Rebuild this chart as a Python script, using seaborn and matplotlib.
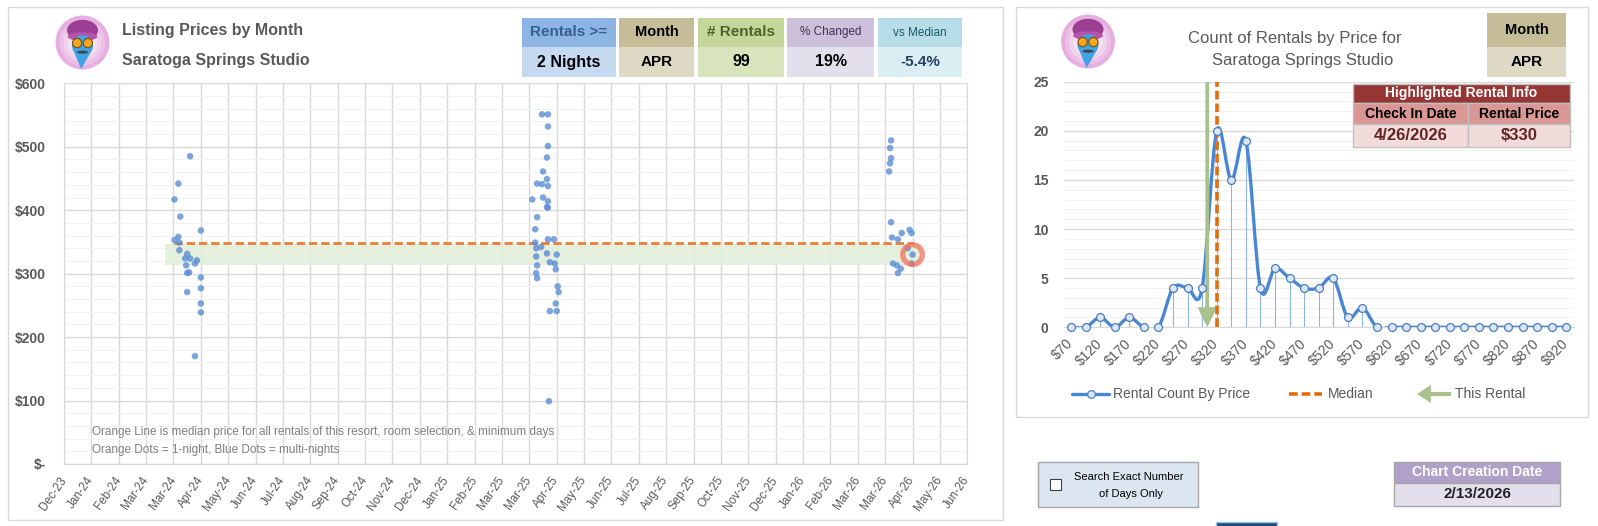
import matplotlib
matplotlib.use("Agg")
import matplotlib.pyplot as plt
import matplotlib.dates as mdates
from matplotlib.patches import Rectangle, Circle, Ellipse, Polygon, PathPatch, FancyArrowPatch
from matplotlib.path import Path
from matplotlib.ticker import FixedLocator, MultipleLocator, FuncFormatter
import numpy as np
import pandas as pd
import seaborn as sns

# ---- left chart: listing prices by check in date ----
dates_2024 = ['2024-04-17', '2024-04-05', '2024-04-01', '2024-04-07', '2024-04-28', '2024-04-01',
              '2024-04-05', '2024-04-06', '2024-04-06', '2024-04-14', '2024-04-12', '2024-04-17',
              '2024-04-24', '2024-04-22', '2024-04-13', '2024-04-14', '2024-04-16', '2024-04-28',
              '2024-04-28', '2024-04-14', '2024-04-28', '2024-04-28', '2024-04-22']
prices_2024 = [485, 442, 417, 390, 368, 353, 358, 349, 337, 331, 324, 324,
               321, 316, 313, 301, 302, 294, 277, 271, 253, 239, 170]

dates_2025 = ['2025-04-12', '2025-04-18', '2025-04-18', '2025-04-18', '2025-04-17', '2025-04-13',
              '2025-04-17', '2025-04-07', '2025-04-12', '2025-04-18', '2025-04-02', '2025-04-13',
              '2025-04-18', '2025-04-17', '2025-04-18', '2025-04-07', '2025-04-05', '2025-04-05',
              '2025-04-18', '2025-04-24', '2025-04-06', '2025-04-11', '2025-04-06', '2025-04-17',
              '2025-04-27', '2025-04-07', '2025-04-20', '2025-04-25', '2025-04-26', '2025-04-06',
              '2025-04-07', '2025-04-28', '2025-04-29', '2025-04-26', '2025-04-20', '2025-04-27',
              '2025-04-19']
prices_2025 = [551, 551, 532, 501, 483, 461, 449, 442, 441, 438, 417, 420,
               414, 405, 404, 389, 370, 349, 354, 354, 340, 342, 327, 332,
               330, 313, 318, 316, 307, 301, 293, 280, 271, 253, 241, 241, 99]

dates_2026 = ['2026-04-04', '2026-04-03', '2026-04-04', '2026-04-03', '2026-04-02', '2026-04-04',
              '2026-04-15', '2026-04-23', '2026-04-25', '2026-04-05', '2026-04-11', '2026-04-21',
              '2026-04-26', '2026-04-25', '2026-04-06', '2026-04-10', '2026-04-14', '2026-04-11']
prices_2026 = [510, 498, 482, 474, 461, 381, 364, 369, 364, 357, 354, 340,
               330, 316, 316, 313, 308, 301]

median_price = 349
median_start, median_end = '2024-04-01', '2026-04-27'
band_low, band_high = 313.5, 346.5
band_start, band_end = '2024-03-22', '2026-05-05'
highlight_date = '2026-04-26'
highlight_price = 330

# ---- right chart: count of rentals by price ----
bin_prices = [70, 95, 120, 145, 170, 195, 220, 245, 270, 295, 320, 345, 370, 395, 420, 445, 470,
              495, 520, 545, 570, 595, 620, 645, 670, 695, 720, 745, 770, 795, 820, 845, 870, 895, 920]
counts = [0, 0, 1, 0, 1, 0, 0, 4, 4, 4, 20, 15, 19, 4, 6, 5, 4, 4, 5, 1, 2, 0,
          0, 0, 0, 0, 0, 0, 0, 0, 0, 0, 0, 0, 0]
median_bin_pos = 10.05
rental_bin_pos = 9.35

# ---- header cells ----
header_names = ['Rentals >=', 'Month', '# Rentals', '% Changed', 'vs Median']
header_values = ['2 Nights', 'APR', '99', '19%', '-5.4%']
check_in_text = '4/26/2026'
rental_price_text = '$330'
creation_date = '2/13/2026'

W, H = 1598, 526
BLUE = '#4A86D4'
GRID = '#D9D9D9'
MINOR = '#F2F2F2'
TXT = '#595959'
GREEN = '#A9C18C'

sns.set_style('white')
plt.rcParams['font.family'] = ['Liberation Sans', 'DejaVu Sans']

fig = plt.figure(figsize=(W / 100, H / 100), dpi=100)


def px_rect(l, t, r, b):
    return [l / W, 1 - b / H, (r - l) / W, (b - t) / H]


def smooth_path(xs, ys):
    # bezier segments through the points, like a smoothed office line
    verts = [(xs[0], ys[0])]
    codes = [Path.MOVETO]
    n = len(xs)
    for i in range(n - 1):
        xa, ya = (xs[i - 1], ys[i - 1]) if i > 0 else (xs[i], ys[i])
        xd, yd = (xs[i + 2], ys[i + 2]) if i + 2 < n else (xs[i + 1], ys[i + 1])
        c1 = (xs[i] + (xs[i + 1] - xa) / 6, ys[i] + (ys[i + 1] - ya) / 6)
        c2 = (xs[i + 1] - (xd - xs[i]) / 6, ys[i + 1] - (yd - ys[i]) / 6)
        verts += [c1, c2, (xs[i + 1], ys[i + 1])]
        codes += [Path.CURVE4] * 3
    return Path(verts, codes)


# ================= left chart =================
axL = fig.add_axes(px_rect(64, 83.3, 967.3, 464))
df = pd.DataFrame({'date': pd.to_datetime(dates_2024 + dates_2025 + dates_2026),
                   'price': prices_2024 + prices_2025 + prices_2026})

axL.fill_between(pd.to_datetime([band_start, band_end]), band_low, band_high,
                 color='#E2EFDA', alpha=0.9, lw=0, zorder=1)
axL.plot(pd.to_datetime([median_start, median_end]), [median_price, median_price],
         color='#ED7D31', lw=2, dashes=(3, 1.4), zorder=3)
sns.scatterplot(data=df, x='date', y='price', ax=axL, color='#5B8ED6', s=22,
                edgecolor='none', alpha=0.8, zorder=4, legend=False)
axL.scatter(pd.to_datetime([highlight_date]), [highlight_price], s=200, facecolor='none',
            edgecolor='#F2705F', lw=3.8, alpha=0.75, zorder=5)

tick_dates = pd.date_range('2023-12-10', periods=34, freq='28D')
tick_nums = mdates.date2num(tick_dates.to_pydatetime())
axL.set_xticks(tick_nums)
axL.set_xticklabels([d.strftime('%b-%y') for d in tick_dates])
axL.set_xlim(tick_nums[0], tick_nums[-1])
axL.set_ylim(0, 600)
axL.set_yticks(range(0, 601, 100))
axL.yaxis.set_minor_locator(MultipleLocator(20))
axL.yaxis.set_major_formatter(FuncFormatter(lambda v, p: '$-' if v == 0 else f'${v:.0f}'))
axL.grid(True, which='major', color=GRID, lw=1, zorder=0)
axL.grid(True, which='minor', axis='y', color=MINOR, lw=0.8, zorder=0)
axL.set_axisbelow(True)
axL.set_xlabel('')
axL.set_ylabel('')
for s in axL.spines.values():
    s.set_color(GRID)
axL.tick_params(axis='y', which='both', length=0, pad=13, labelsize=10, labelcolor=TXT)
axL.tick_params(axis='x', length=0, pad=10, labelsize=8.5, labelcolor=TXT)
for lab in axL.get_yticklabels():
    lab.set_fontweight('bold')
plt.setp(axL.get_xticklabels(), rotation=55, ha='right', va='center', rotation_mode='anchor')

# ================= right chart =================
axR = fig.add_axes(px_rect(1063.8, 81.7, 1573.6, 327.3))
xs = np.arange(len(counts))
axR.vlines(xs, 0, counts, color='#8DB4E2', lw=0.8, zorder=2)
axR.add_patch(PathPatch(smooth_path(xs, counts), fill=False, edgecolor=BLUE, lw=2.4,
                        zorder=3, joinstyle='round', capstyle='round'))
sns.scatterplot(x=xs, y=counts, ax=axR, s=32, color='#DCE6F2', edgecolor='#4A7EBB',
                linewidth=0.9, zorder=6, legend=False, clip_on=False)
axR.axvline(median_bin_pos, color='#E46C0A', lw=2.6, dashes=(2.4, 1.1), zorder=5)
axR.add_patch(FancyArrowPatch((rental_bin_pos, 25), (rental_bin_pos, 0),
                              arrowstyle='simple,head_width=1.4,head_length=1.45,tail_width=0.27',
                              mutation_scale=10, color=GREEN, lw=0, shrinkA=0, shrinkB=0, zorder=4))

axR.set_xlim(-0.5, len(counts) - 0.5)
axR.set_ylim(0, 25)
axR.set_xticks(xs[::2])
axR.set_xticklabels([f'${p}' for p in bin_prices[::2]])
axR.xaxis.set_minor_locator(FixedLocator(np.arange(-0.5, len(counts), 1)))
axR.set_yticks(range(0, 26, 5))
axR.yaxis.set_minor_locator(MultipleLocator(1))
axR.grid(True, which='major', axis='y', color=GRID, lw=1, zorder=0)
axR.grid(True, which='minor', axis='y', color=MINOR, lw=0.8, zorder=0)
axR.set_axisbelow(True)
for name, s in axR.spines.items():
    s.set_visible(name == 'bottom')
axR.spines['bottom'].set_color(GRID)
axR.tick_params(axis='x', which='major', length=0, pad=10, labelsize=10, labelcolor=TXT)
axR.tick_params(axis='x', which='minor', length=5, direction='inout', color=GRID)
axR.tick_params(axis='y', which='both', length=0, pad=11, labelsize=10, labelcolor=TXT)
for lab in axR.get_yticklabels():
    lab.set_fontweight('bold')
plt.setp(axR.get_xticklabels(), rotation=45, ha='right', va='center', rotation_mode='anchor')

# ================= overlay: panels, headers, widgets =================
axO = fig.add_axes([0, 0, 1, 1], zorder=10)
axO.set_xlim(0, W)
axO.set_ylim(H, 0)
axO.axis('off')
axO.patch.set_alpha(0)


def cell(x0, y0, x1, y1, fill, text, size, color='black', weight='bold', edge='none'):
    axO.add_patch(Rectangle((x0, y0), x1 - x0, y1 - y0, facecolor=fill, edgecolor=edge, lw=1))
    axO.text((x0 + x1) / 2, (y0 + y1) / 2, text, ha='center', va='center', fontsize=size,
             color=color, fontweight=weight)


def draw_genie(cx, cy, r):
    for k, col in enumerate(['#E6AEE1', '#ECC1E8', '#F1D2EE', '#F6E2F4', '#FAEFF9']):
        axO.add_patch(Circle((cx, cy), r * (1 - 0.15 * k), color=col, lw=0))
    axO.add_patch(Ellipse((cx, cy - 0.45 * r), 1.15 * r, 0.78 * r, color='#9C3F93', lw=0))
    axO.add_patch(Ellipse((cx, cy - 0.22 * r), 1.1 * r, 0.32 * r, color='#B552A9', lw=0))
    axO.add_patch(Ellipse((cx, cy + 0.12 * r), 0.78 * r, 0.78 * r, color='#3FA3E6', lw=0))
    axO.add_patch(Polygon([(cx - 0.34 * r, cy + 0.3 * r), (cx + 0.34 * r, cy + 0.3 * r),
                           (cx - 0.05 * r, cy + 0.98 * r)], color='#3FA3E6', lw=0))
    for dx in (-0.2, 0.2):
        axO.add_patch(Circle((cx + dx * r, cy + 0.02 * r), 0.17 * r, facecolor='#F5A623',
                             edgecolor='#7A4E00', lw=0.8))
    axO.add_patch(Ellipse((cx, cy + 0.36 * r), 0.42 * r, 0.11 * r, color='#444444', lw=0))


# panel frames
axO.add_patch(Rectangle((7.5, 6.7), 995.5, 513.3, facecolor='none', edgecolor=GRID, lw=1))
axO.add_patch(Rectangle((1016, 7), 572, 410, facecolor='none', edgecolor=GRID, lw=1))

# left header
draw_genie(82.5, 42.5, 27)
axO.text(122, 31, 'Listing Prices by Month', ha='left', va='center', fontsize=11.5,
         fontweight='bold', color=TXT)
axO.text(122, 61, 'Saratoga Springs Studio', ha='left', va='center', fontsize=11.5,
         fontweight='bold', color=TXT)

box_x = [(522, 616), (619, 694), (698, 784), (787, 874), (878, 962)]
head_fill = ['#8DB4E2', '#C4BD97', '#C4D79B', '#CCC0DA', '#B7DEE8']
val_fill = ['#C5D9F1', '#DDD9C4', '#D8E4BC', '#E4DFEC', '#DAEEF3']
head_col = ['#366092', 'black', '#4F6228', '#403151', '#215967']
head_size = [11, 10.5, 11, 8.5, 8.5]
head_weight = ['bold', 'bold', 'bold', 'normal', 'normal']
val_col = ['black', 'black', 'black', 'black', '#244062']
val_size = [11.5, 11, 11.5, 11.5, 11]
for i, (x0, x1) in enumerate(box_x):
    cell(x0, 18, x1, 47, head_fill[i], header_names[i], head_size[i], head_col[i], head_weight[i])
    cell(x0, 47, x1, 77, val_fill[i], header_values[i], val_size[i], val_col[i])

axO.text(92, 432, 'Orange Line is median price for all rentals of this resort, room selection, & minimum days',
         ha='left', va='center', fontsize=8.5, color='#7F7F7F')
axO.text(92, 450, 'Orange Dots = 1-night, Blue Dots = multi-nights',
         ha='left', va='center', fontsize=8.5, color='#7F7F7F')

# right header
draw_genie(1088, 41.5, 27)
axO.text(1295, 39, 'Count of Rentals by Price for', ha='center', va='center', fontsize=12, color=TXT)
axO.text(1303, 61, 'Saratoga Springs Studio', ha='center', va='center', fontsize=12, color=TXT)
cell(1487, 13, 1566, 47, '#C4BD97', 'Month', 10.5)
cell(1487, 47, 1566, 77, '#DDD9C4', header_values[1], 11)

# highlighted rental table
cell(1353, 84, 1570, 103, '#963634', 'Highlighted Rental Info', 10, 'white', edge='#BFBFBF')
cell(1353, 103, 1468, 124, '#DA9694', 'Check In Date', 10, edge='#BFBFBF')
cell(1468, 103, 1570, 124, '#DA9694', 'Rental Price', 10, edge='#BFBFBF')
cell(1353, 124, 1468, 147, '#F2DCDB', check_in_text, 12, '#632523', edge='#BFBFBF')
cell(1468, 124, 1570, 147, '#F2DCDB', rental_price_text, 12, '#632523', edge='#BFBFBF')

# right legend
axO.plot([1072, 1109], [394, 394], color=BLUE, lw=2.4)
axO.plot([1090.5], [394], marker='o', ms=5.5, mfc='#DCE6F2', mec='#4A7EBB', mew=0.9)
axO.text(1113, 394, 'Rental Count By Price', ha='left', va='center', fontsize=10, color=TXT)
axO.plot([1289, 1322], [394, 394], color='#E46C0A', lw=2.6, dashes=(2.4, 1.1))
axO.text(1328, 394, 'Median', ha='left', va='center', fontsize=10, color=TXT)
axO.add_patch(FancyArrowPatch((1451, 394), (1417, 394),
                              arrowstyle='simple,head_width=1.3,head_length=1.0,tail_width=0.3',
                              mutation_scale=10, color=GREEN, lw=0, shrinkA=0, shrinkB=0))
axO.text(1455, 394, 'This Rental', ha='left', va='center', fontsize=10, color=TXT)

# bottom widgets
axO.add_patch(Rectangle((1038, 462), 160, 45, facecolor='#DCE6F1', edgecolor='#A6A6A6', lw=1))
axO.add_patch(Rectangle((1050, 479), 11, 11, facecolor='white', edgecolor='#404040', lw=0.8))
axO.text(1129, 477, 'Search Exact Number', ha='center', va='center', fontsize=8, color='black')
axO.text(1131, 494, 'of Days Only', ha='center', va='center', fontsize=8, color='black')
cell(1394, 462, 1560, 483, '#B1A0C7', 'Chart Creation Date', 10, 'white', edge='#A6A6A6')
cell(1394, 483, 1560, 506, '#E4DFEC', creation_date, 11, '#222222', edge='#A6A6A6')
axO.add_patch(Rectangle((1216, 522), 61, 6, facecolor='#1F4E79', edgecolor='#9DC3E6', lw=1))

fig.savefig('out.png', dpi=100)
